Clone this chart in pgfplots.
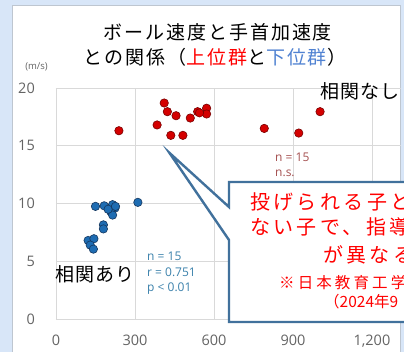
\documentclass[border=0pt]{standalone}
\usepackage{pgfplots}
\pgfplotsset{compat=1.18}
\usepackage{fontspec}
\setmainfont{Open Sans}
\newfontfamily\jp{Noto Sans CJK JP}
\newfontfamily\jpw[LetterSpace=10]{Noto Sans CJK JP}
\newfontfamily\jpb[LetterSpace=17]{Noto Sans CJK JP}
\newfontfamily\jps[LetterSpace=20]{Noto Sans CJK JP}
\newfontfamily\jpm[LetterSpace=5]{Noto Sans CJK JP}
\definecolor{bgblue}{RGB}{216,230,248}
\definecolor{panelgray}{RGB}{190,198,208}
\definecolor{gridgray}{RGB}{217,217,217}
\definecolor{ticktxt}{RGB}{100,100,100}
\definecolor{redpt}{RGB}{212,0,0}
\definecolor{redln}{RGB}{120,0,0}
\definecolor{bluept}{RGB}{30,108,178}
\definecolor{blueln}{RGB}{20,55,95}
\definecolor{statblue}{RGB}{60,130,172}
\definecolor{statred}{RGB}{165,80,80}
\definecolor{boxblue}{RGB}{65,113,156}
\definecolor{titlered}{RGB}{255,0,0}
\definecolor{titleblue}{RGB}{80,130,210}
\pgfplotstableread{
x y
239 16.3
411 18.7
423 17.95
456 17.6
384 16.8
436 15.9
482 15.9
510 17.4
538 17.95
572 18.25
572 17.75
791 16.5
922 16.1
1003 17.95
545 17.85
}\tabupper
\pgfplotstableread{
x y
150 9.75
183 9.8
215 9.9
224 9.6
208 9.3
215 9.0
198 9.5
226 9.75
311 10.1
180 8.15
180 7.8
122 6.8
144 6.95
130 6.4
142 6.05
}\tablower
\begin{document}
\begin{tikzpicture}[x=1bp,y=1bp]
\useasboundingbox (0,0) rectangle (404,352);
\clip (0,0) rectangle (404,352);
\fill[bgblue] (0,0) rectangle (404,352);
\fill[white] (12,-2) rectangle (400,347);
\draw[panelgray, line width=0.8bp] (12,-2) -- (12,347) -- (400,347) -- (400,-2);
\begin{axis}[
  at={(56bp,33bp)}, anchor=south west,
  scale only axis, width=344.9bp, height=231bp,
  xmin=0, xmax=1310, ymin=0, ymax=20,
  xtick={0,300,600,900,1200}, ytick={0,5,10,15,20},
  axis line style={draw=none},
  major tick length=0pt,
  grid=major, major grid style={gridgray, line width=0.8bp},
  /pgf/number format/assume math mode=true,
  /pgf/number format/1000 sep={,},
  ticklabel style={font=\fontsize{14.5bp}{16bp}\selectfont, text=ticktxt},
  yticklabel style={anchor=east, inner sep=0pt, xshift=-21bp},
  xticklabel style={anchor=north, inner sep=0pt, yshift=-16bp},
  clip=false,
]
\addplot[only marks, mark=*, mark size=4.2bp, mark options={fill=redpt, draw=redln, line width=0.6bp}] table[x=x,y=y] {\tabupper};
\addplot[only marks, mark=*, mark size=4.2bp, mark options={fill=bluept, draw=blueln, line width=0.6bp}] table[x=x,y=y] {\tablower};
\end{axis}
% title
\node[font=\jpw\fontsize{19bp}{23bp}\selectfont, inner sep=0pt] at (218,320) {ボール速度と手首加速度};
\node[font=\jpw\fontsize{19bp}{23bp}\selectfont, inner sep=0pt] at (215,295) {との関係（\textcolor{titlered}{上位群}と\textcolor{titleblue}{下位群}）};
\node[font=\fontsize{9.5bp}{11bp}\selectfont, text=ticktxt, inner sep=0pt] at (36.5,285) {(m/s)};
% annotations
\node[font=\jpm\fontsize{19bp}{22bp}\selectfont, anchor=west, inner sep=0pt] at (320,261) {相関なし};
\node[font=\jpm\fontsize{19bp}{22bp}\selectfont, anchor=west, inner sep=0pt] at (55,78) {相関あり};
\node[font=\fontsize{12bp}{13bp}\selectfont, text=statblue, anchor=base west, inner sep=0pt] at (147,91.3) {n = 15};
\node[font=\fontsize{12bp}{13bp}\selectfont, text=statblue, anchor=base west, inner sep=0pt] at (147,76) {r = 0.751};
\node[font=\fontsize{12bp}{13bp}\selectfont, text=statblue, anchor=base west, inner sep=0pt] at (147,60.3) {p < 0.01};
\node[font=\fontsize{12bp}{13bp}\selectfont, text=statred, anchor=base west, inner sep=0pt] at (275,191) {n = 15};
\node[font=\fontsize{12bp}{13bp}\selectfont, text=statred, anchor=base west, inner sep=0pt] at (275,175.5) {n.s.};
% callout
\draw[boxblue, line width=2.4bp, fill=white, line join=miter]
  (229,170) -- (425,170) -- (425,30) -- (229,30) -- (229,112) -- (169.3,199.3) -- (229,145) -- cycle;
\node[font=\jpb\fontsize{20bp}{24bp}\selectfont, text=titlered, anchor=west, inner sep=0pt] at (250,150) {投げられる子と};
\node[font=\jpb\fontsize{20bp}{24bp}\selectfont, text=titlered, anchor=west, inner sep=0pt] at (250,125) {ない子で、指導};
\node[font=\jpb\fontsize{20bp}{24bp}\selectfont, text=titlered, anchor=west, inner sep=0pt] at (323,97) {が異なる};
\node[font=\jps\fontsize{15.5bp}{19bp}\selectfont, text=titlered, anchor=west, inner sep=0pt] at (279,69) {※日本教育工学};
\node[font=\jp\fontsize{15.5bp}{19bp}\selectfont, text=titlered, anchor=west, inner sep=0pt] at (324,50) {（2024年9};
\end{tikzpicture}
\end{document}
